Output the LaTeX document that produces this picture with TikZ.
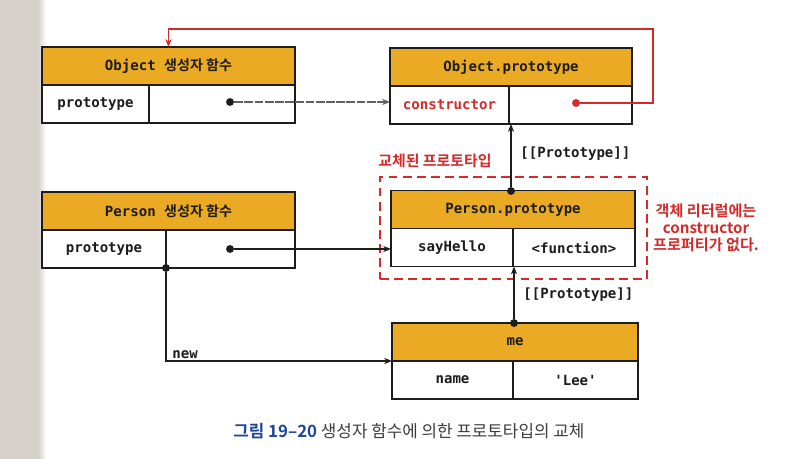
\documentclass[tikz,border=0pt]{standalone}
\usepackage{fontspec}
\setmonofont{DejaVu Sans Mono}
\newfontfamily\kr{Noto Sans CJK KR}[BoldFont={Noto Sans CJK KR Bold}]
\usetikzlibrary{arrows.meta}
\definecolor{hdr}{HTML}{EBAA24}
\definecolor{rd}{HTML}{D42A2A}
\definecolor{capblue}{HTML}{1E4696}
\definecolor{ink}{HTML}{1C1C1C}
\definecolor{gutter}{HTML}{D6D1CA}
\begin{document}
\begin{tikzpicture}[x=0.02cm,y=-0.02cm,
  box/.style={draw=ink, line width=0.9pt, inner sep=0pt, outer sep=0pt,
    font=\ttfamily\bfseries\fontsize{8}{9}\selectfont, text=ink},
  hdrbox/.style={box, fill=hdr, minimum height=0.76cm},
  cell/.style={box, fill=white, minimum height=0.76cm},
  dot/.style={circle, fill=ink, inner sep=0pt, minimum size=4.5pt},
  rdot/.style={circle, fill=rd, inner sep=0pt, minimum size=4.5pt},
  conn/.style={draw=ink, line width=0.6pt, -{Stealth[length=4.5pt,width=3.5pt]}},
  lbl/.style={font=\ttfamily\bfseries\fontsize{8}{9}\selectfont, text=ink, inner sep=0pt},
  note/.style={font=\kr\bfseries\fontsize{8.5}{10}\selectfont, text=rd, inner sep=0pt}
]
% background
\useasboundingbox (0,0) rectangle (787,459);
\fill[white] (0,0) rectangle (787,459);
\fill[gutter] (0,0) rectangle (38,459);
\shade[left color=gutter, right color=white] (38,0) rectangle (46,459);

% Object constructor
\node[hdrbox, minimum width=5.06cm] (objh) at (168.5,66) {Object {\kr\bfseries 생성자 함수}};
\node[cell, minimum width=2.14cm] (objl) at (95.5,104) {prototype};
\node[cell, minimum width=2.92cm] (objr) at (222,104) {};

% Object.prototype
\node[hdrbox, minimum width=4.84cm] (oph) at (511,67) {Object.prototype};
\node[cell, minimum width=2.38cm, text=rd] (opl) at (449.5,105) {constructor};
\node[cell, minimum width=2.46cm] (opr) at (570.5,105) {};

% Person constructor
\node[hdrbox, minimum width=5.06cm] (pch) at (168.5,211) {Person {\kr\bfseries 생성자 함수}};
\node[cell, minimum width=2.48cm] (pcl) at (104,249) {prototype};
\node[cell, minimum width=2.58cm] (pcr) at (230.5,249) {};

% Person.prototype
\node[hdrbox, minimum width=4.88cm] (pph) at (513,209.5) {Person.prototype};
\node[cell, minimum width=2.44cm] (ppl) at (452,247.5) {sayHello};
\node[cell, minimum width=2.44cm] (ppr) at (574,247.5) {<function>};

% me
\node[hdrbox, minimum width=4.92cm] (meh) at (515,342) {me};
\node[cell, minimum width=2.42cm] (mel) at (452.5,380) {name};
\node[cell, minimum width=2.5cm] (mer) at (575.5,380) {'Lee'};

% replaced prototype frame
\node[draw=rd, line width=0.9pt, dash pattern=on 5pt off 3pt,
  minimum width=5.34cm, minimum height=2.04cm, inner sep=0pt] (frame) at (513.5,228) {};
\node[note, anchor=west] (repl) at (378,161) {교체된 프로토타입};

% note on the right
\node[note, align=center, font=\kr\bfseries\fontsize{8.6}{9.8}\selectfont] (lit) at (706,228)
  {객체 리터럴에는\\constructor\\프로퍼티가 없다.};

% Object prototype -> Object.prototype
\node[dot] (d1) at (230,102) {};
\draw[conn, draw=ink!70, dash pattern=on 5pt off 0.8pt] (d1) -- (d1 -| opl.west);

% constructor -> Object constructor (red)
\node[rdot] (d2) at (576,103) {};
\coordinate (rc) at (653,29);
\draw[draw=rd, line width=0.6pt, -{Stealth[length=4.5pt,width=3.5pt]}]
  (d2) -| (rc) -| (objh.north);

% Person prototype -> Person.prototype
\node[dot] (d3) at (230,249) {};
\draw[conn] (d3) -- (d3 -| ppl.west);

% Person.prototype [[Prototype]] -> Object.prototype
\node[dot] (d4) at (511,191) {};
\draw[conn] (d4) -- (d4 |- opl.south);
\node[lbl, anchor=west] (pl1) at (520,154) {[[Prototype]]};

% me [[Prototype]] -> Person.prototype
\node[dot] (d5) at (514,323) {};
\draw[conn] (d5) -- (d5 |- ppl.south);
\node[lbl, anchor=west] (pl2) at (523,295) {[[Prototype]]};

% new
\node[dot] (d6) at (pcl.south east) {};
\draw[conn] (d6) |- (meh.south west);
\node[lbl, anchor=south west] (newl) at (172,359) {new};

% caption
\node[anchor=west, inner sep=0pt, font=\kr\fontsize{9.6}{11}\selectfont, text=ink!85] (cap) at (233,431)
  {{\bfseries\color{capblue}그림 19–20} 생성자 함수에 의한 프로토타입의 교체};
\end{tikzpicture}
\end{document}
